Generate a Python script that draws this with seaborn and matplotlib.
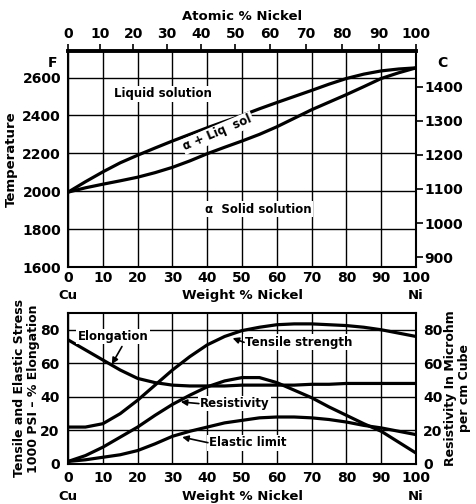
import numpy as np
import matplotlib
matplotlib.use("Agg")
import matplotlib.pyplot as plt
import seaborn as sns

# Composition, weight % nickel
wt_pct = [0, 5, 10, 15, 20, 25, 30, 35, 40, 45, 50, 55, 60, 65, 70, 75, 80, 85, 90, 95, 100]

# Copper-nickel equilibrium diagram, deg F
liquidus_f = [1995, 2050, 2102, 2150, 2190, 2228, 2265, 2300, 2335, 2368, 2400, 2435, 2468,
              2500, 2532, 2565, 2595, 2618, 2635, 2645, 2651]
solidus_f = [1995, 2018, 2037, 2055, 2074, 2098, 2126, 2160, 2198, 2232, 2265, 2300, 2340,
             2385, 2430, 2470, 2510, 2552, 2595, 2625, 2651]

# Mechanical and electrical properties of annealed alloys
tensile_strength = [22, 22, 24, 30, 38, 47, 56, 64, 71, 76, 79.5, 81.5, 83, 83.5, 83.5, 83,
                    82.5, 81.5, 80, 78, 76]
elongation = [74, 68, 62, 56, 51, 48.5, 47, 46.5, 46.5, 46.5, 47, 47, 47, 47, 47.5, 47.5,
              48, 48, 48, 48, 48]
resistivity = [1.5, 5, 10, 16, 22, 29, 35.5, 41, 46, 49.5, 51.5, 51.5, 48.5, 44, 39.5, 34,
               29, 24, 19.5, 13, 6.5]
elastic_limit = [1.5, 2.5, 4, 5.5, 8, 12, 16.5, 19.5, 22, 24.5, 26, 27.5, 28, 28, 27.5,
                 26.5, 25, 23, 21.5, 19.5, 17.5]

wt_ticks = [0, 10, 20, 30, 40, 50, 60, 70, 80, 90, 100]
atomic_ticks = [0, 10, 20, 30, 40, 50, 60, 70, 80, 90, 100]
temp_f_ticks = [1600, 1800, 2000, 2200, 2400, 2600]
temp_c_ticks = [900, 1000, 1100, 1200, 1300, 1400]
prop_ticks = [0, 20, 40, 60, 80]

M_CU, M_NI = 63.546, 58.693


def wt_to_at(w):
    w = np.asarray(w, dtype=float)
    n_ni = w / M_NI
    n_cu = (100 - w) / M_CU
    return 100 * n_ni / (n_ni + n_cu)


def at_to_wt(a):
    a = np.asarray(a, dtype=float)
    m_ni = a * M_NI
    m_cu = (100 - a) * M_CU
    return 100 * m_ni / (m_ni + m_cu)


def f_to_c(f):
    return (np.asarray(f, dtype=float) - 32) * 5 / 9


def c_to_f(c):
    return np.asarray(c, dtype=float) * 9 / 5 + 32


sns.set_theme(style="white")
plt.rcParams["font.family"] = ["DejaVu Sans"]
plt.rcParams["font.weight"] = "bold"
plt.rcParams["axes.labelweight"] = "bold"
plt.rcParams["text.color"] = "black"
plt.rcParams["axes.labelcolor"] = "black"
plt.rcParams["xtick.color"] = "black"
plt.rcParams["ytick.color"] = "black"

FS = 10
fig = plt.figure(figsize=(4.76, 5.04), dpi=100)
ax1 = fig.add_axes([0.1429, 0.4702, 0.7311, 0.4286])
ax2 = fig.add_axes([0.1429, 0.0794, 0.7311, 0.2996])

LINE = dict(color="black", linewidth=2.3)
BOX = dict(facecolor="white", edgecolor="none", pad=1.0)

# ---- phase diagram ----
sns.lineplot(x=wt_pct, y=liquidus_f, ax=ax1, sort=False, **LINE)
sns.lineplot(x=wt_pct, y=solidus_f, ax=ax1, sort=False, **LINE)
ax1.set_xlim(0, 100)
ax1.set_ylim(1600, 2740)
ax1.set_xticks(wt_ticks)
ax1.set_yticks(temp_f_ticks)
ax1.grid(True, color="black", linewidth=1.0)
ax1.tick_params(axis="x", length=0, pad=3, labelsize=FS)
ax1.tick_params(axis="y", length=0, pad=5, labelsize=FS)
ax1.set_ylabel("Temperature", fontsize=9.5, labelpad=3)
ax1.set_xlabel("")
for s in ax1.spines.values():
    s.set_color("black")
    s.set_linewidth(1.5)
ax1.spines["top"].set_linewidth(2.8)

top = ax1.secondary_xaxis("top", functions=(wt_to_at, at_to_wt))
top.set_xticks(atomic_ticks)
top.tick_params(length=5, width=1.2, pad=2, labelsize=FS, direction="out")
top.set_xlabel("Atomic % Nickel", fontsize=9.5, labelpad=5)

right = ax1.secondary_yaxis("right", functions=(f_to_c, c_to_f))
right.set_yticks(temp_c_ticks)
right.tick_params(length=5, width=1.2, pad=1, labelsize=FS, direction="out")

ax1.text(-0.045, 0.944, "F", transform=ax1.transAxes, ha="center", va="center", fontsize=FS)
ax1.text(1.075, 0.944, "C", transform=ax1.transAxes, ha="center", va="center", fontsize=FS)
ax1.text(27.3, 2515, "Liquid solution", ha="center", va="center", fontsize=8.5, bbox=BOX)
ax1.text(43, 2308, "\u03b1 + Liq  sol", ha="center", va="center", fontsize=8.5,
         rotation=23, rotation_mode="anchor", bbox=BOX)
ax1.text(54.6, 1905, "\u03b1  Solid solution", ha="center", va="center", fontsize=8.5, bbox=BOX)

for xa, txt in [(0.0, "Cu"), (0.5, "Weight % Nickel"), (1.0, "Ni")]:
    ax1.text(xa, -0.134, txt, transform=ax1.transAxes, ha="center", va="center", fontsize=9.5)

# ---- properties ----
for series in (tensile_strength, elongation, resistivity, elastic_limit):
    sns.lineplot(x=wt_pct, y=series, ax=ax2, sort=False, **LINE)
ax2.set_xlim(0, 100)
ax2.set_ylim(0, 90)
ax2.set_xticks(wt_ticks)
ax2.set_yticks(prop_ticks)
ax2.grid(True, color="black", linewidth=1.0)
ax2.tick_params(axis="x", length=0, pad=5, labelsize=FS)
ax2.tick_params(axis="y", length=0, pad=6, labelsize=FS)
for s in ax2.spines.values():
    s.set_color("black")
    s.set_linewidth(1.5)
ax2.set_ylabel("Tensile and Elastic Stress\n1000 PSI \u2013 % Elongation", fontsize=9,
               labelpad=0, linespacing=1.1)

res_ax = ax2.secondary_yaxis("right", functions=(lambda v: v, lambda v: v))
res_ax.set_yticks(prop_ticks)
res_ax.tick_params(length=0, pad=5, labelsize=FS)
res_ax.set_ylabel("Resistivity In Microhm\nper cm Cube", fontsize=9, rotation=90,
                  labelpad=1, linespacing=1.1)

ARROW = dict(arrowstyle="-|>", color="black", lw=1.2, mutation_scale=9, shrinkA=0, shrinkB=0)
ax2.text(13, 76, "Elongation", ha="center", va="center", fontsize=8.5, bbox=BOX)
ax2.annotate("", xy=(12.6, 59.5), xytext=(15.5, 70), arrowprops=ARROW)
ax2.text(50.8, 72.5, "Tensile strength", ha="left", va="center", fontsize=8.5, bbox=BOX)
ax2.annotate("", xy=(47.3, 75), xytext=(50.6, 72.5), arrowprops=ARROW)
ax2.text(37.8, 36, "Resistivity", ha="left", va="center", fontsize=8.5, bbox=BOX)
ax2.annotate("", xy=(32.4, 37), xytext=(37.6, 36), arrowprops=ARROW)
ax2.text(40.4, 12.7, "Elastic limit", ha="left", va="center", fontsize=8.5, bbox=BOX)
ax2.annotate("", xy=(32.8, 16), xytext=(40.2, 12.7), arrowprops=ARROW)

for xa, txt in [(0.0, "Cu"), (0.5, "Weight % Nickel"), (1.0, "Ni")]:
    ax2.text(xa, -0.2185, txt, transform=ax2.transAxes, ha="center", va="center", fontsize=9.5)

fig.savefig("out.png", dpi=100, facecolor="white")
